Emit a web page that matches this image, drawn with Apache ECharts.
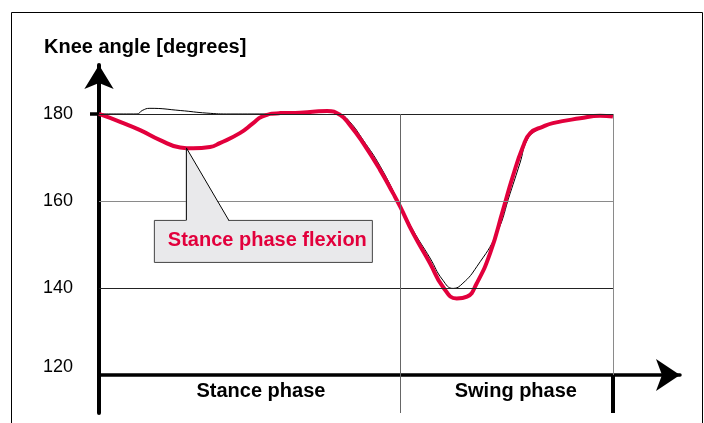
<!DOCTYPE html>
<html>
<head>
<meta charset="utf-8">
<script src="https://cdn.jsdelivr.net/npm/echarts@6/dist/echarts.min.js"></script>
<style>
  html, body { margin: 0; background: #fff; }
  #chart { width: 704px; height: 423px; }
</style>
</head>
<body>
<div id="chart"></div>
<script>
const FONT = '"Liberation Sans", Arial, sans-serif'
const RED = '#e2003c'

// axis values
const yTicks = [120, 140, 160, 180]
const gridLevels = [140, 160, 180]
const stanceEnd = 58.6
const cycleEnd = 100
const phaseNames = ['Stance phase', 'Swing phase']
const phaseLabelAt = [31.5, 81.1]

// where the callout points: [gait cycle %, knee angle]
const flexionPeak = [16.9, 172.2]

// [gait cycle %, knee angle in degrees]
const normalGait = [
  [0, 180], [4.1, 178.2], [8, 176.3], [11.9, 174.0], [15.8, 172.3], [18.3, 172.1],
  [21.6, 172.4], [23.5, 173.3], [27.4, 175.6], [30, 177.9], [31.7, 179.4],
  [35.2, 180.2], [39.1, 180.3], [41.6, 180.5], [44.4, 180.7], [46.9, 179.8],
  [48.8, 177.5], [51.4, 173.3], [54.7, 167.1], [57.2, 161.8], [58.6, 158.7],
  [61.1, 152.6], [64.4, 145.7], [66.9, 140.3], [69.6, 137.6], [71.6, 138.0],
  [73.5, 141.1], [76.1, 148.0], [78.6, 157.9], [80.5, 165.6], [82.5, 172.5],
  [83.9, 175.6], [86.4, 177.1], [88.3, 177.9], [93.6, 179.0], [97.5, 179.6], [100, 179.4]
]

const stiffKnee = [
  [0, 180], [7.4, 180], [8.4, 180.8], [9.9, 181.3], [15.8, 180.8], [21, 180.2],
  [25.5, 180.0], [31.3, 180.0], [37.2, 180.2], [44.4, 180.6], [46.9, 180],
  [48.8, 178.2], [51.4, 174.0], [54.7, 168.0], [58.6, 159.1], [61.1, 153.3],
  [64.4, 146.9], [66.9, 141.8], [68.9, 139.9], [70.8, 141.1], [73.5, 144.9],
  [77.4, 152.6], [80, 161.8], [81.9, 168.7], [83.3, 174.0], [85.2, 176.3],
  [88.3, 177.9], [93.6, 179.0], [97.5, 179.6], [100, 179.8]
]

const yMin = 111.264
const yMax = 191.26

const chart = echarts.init(document.getElementById('chart'))

const guideLines = gridLevels.map(g => [
  { coord: [0, g], lineStyle: { color: g === 160 ? '#8a8a8a' : '#222', width: 1, type: 'solid' } },
  { coord: [cycleEnd, g] }
])
guideLines.push([
  { coord: [stanceEnd, 180], lineStyle: { color: '#666', width: 1, type: 'solid' } },
  { coord: [stanceEnd, yMin] }
])
guideLines.push([
  { coord: [cycleEnd, 180], lineStyle: { color: '#8a8a8a', width: 1, type: 'solid' } },
  { coord: [cycleEnd, 120] }
])
guideLines.push([
  { coord: [cycleEnd, 120], lineStyle: { color: '#000', width: 4, type: 'solid' } },
  { coord: [cycleEnd, yMin] }
])

chart.setOption({
  animation: false,
  backgroundColor: '#fff',
  textStyle: { fontFamily: FONT },
  title: {
    text: 'Knee angle [degrees]',
    left: 39,
    top: 32,
    textStyle: { color: '#000', fontSize: 20, fontWeight: 'bold', fontFamily: FONT }
  },
  grid: { left: 99, right: 24, top: 65, bottom: 10 },
  xAxis: {
    type: 'value',
    min: 0,
    max: 113.04,
    offset: -38,
    axisLine: {
      show: true,
      onZero: false,
      symbol: ['none', 'arrow'],
      symbolSize: [24, 24],
      lineStyle: { color: '#000', width: 3.5 }
    },
    axisTick: { show: false },
    splitLine: { show: false },
    axisLabel: {
      customValues: phaseLabelAt,
      formatter: v => phaseNames[phaseLabelAt.indexOf(v)] || '',
      color: '#000',
      fontSize: 20,
      fontWeight: 'bold',
      fontFamily: FONT,
      margin: 6
    }
  },
  yAxis: {
    type: 'value',
    min: yMin,
    max: yMax,
    axisLine: {
      show: true,
      onZero: false,
      symbol: ['none', 'arrow'],
      symbolSize: [22, 24],
      lineStyle: { color: '#000', width: 4 }
    },
    axisTick: {
      show: true,
      customValues: [180],
      length: 9,
      lineStyle: { color: '#000', width: 3.5 }
    },
    splitLine: { show: false },
    axisLabel: {
      customValues: yTicks,
      formatter: v => (v === 120 ? '{low|120}' : String(v)),
      rich: { low: { padding: [0, 0, 16, 0], fontSize: 18, color: '#000', fontFamily: FONT } },
      color: '#000',
      fontSize: 18,
      fontFamily: FONT,
      margin: 26
    }
  },
  series: [
    {
      name: 'guides',
      type: 'line',
      data: [],
      z: 1,
      markLine: {
        silent: true,
        symbol: 'none',
        animation: false,
        label: { show: false },
        data: guideLines
      }
    },
    {
      name: 'stiff',
      type: 'line',
      data: stiffKnee,
      smooth: 0.5,
      symbol: 'none',
      z: 2,
      lineStyle: { color: '#000', width: 1 }
    },
    {
      name: 'normal',
      type: 'line',
      data: normalGait,
      smooth: 0.5,
      symbol: 'none',
      z: 3,
      lineStyle: { color: RED, width: 4 }
    }
  ]
})

// callout box anchored on the stance flexion point
const p = chart.convertToPixel({ gridIndex: 0 }, flexionPeak)
const boxTop = p[1] + 72
const boxLeft = p[0] - 32
const baseR = p[0] + 43

chart.setOption({
  graphic: [
    {
      type: 'rect',
      silent: true,
      shape: { x: 11.5, y: 12.5, width: 691, height: 420 },
      style: { fill: 'none', stroke: '#000', lineWidth: 1 }
    },
    {
      type: 'rect',
      silent: true,
      z: 10,
      shape: { x: boxLeft + 0.5, y: boxTop + 0.5, width: 218, height: 42 },
      style: { fill: '#e9e9eb', stroke: '#444', lineWidth: 1 }
    },
    {
      type: 'polygon',
      silent: true,
      z: 11,
      shape: { points: [[p[0], p[1]], [p[0], boxTop + 1.5], [baseR, boxTop + 1.5]] },
      style: { fill: '#e9e9eb', stroke: 'none' }
    },
    {
      type: 'polyline',
      silent: true,
      z: 12,
      shape: { points: [[p[0] + 0.5, boxTop + 0.5], [p[0] + 0.5, p[1]], [baseR, boxTop + 0.5]] },
      style: { fill: 'none', stroke: '#000', lineWidth: 1 }
    },
    {
      type: 'text',
      silent: true,
      z: 13,
      x: p[0] - 18,
      y: boxTop + 21,
      style: {
        text: 'Stance phase flexion',
        fill: RED,
        font: 'bold 20px ' + FONT,
        verticalAlign: 'middle'
      }
    }
  ]
})
</script>
</body>
</html>
